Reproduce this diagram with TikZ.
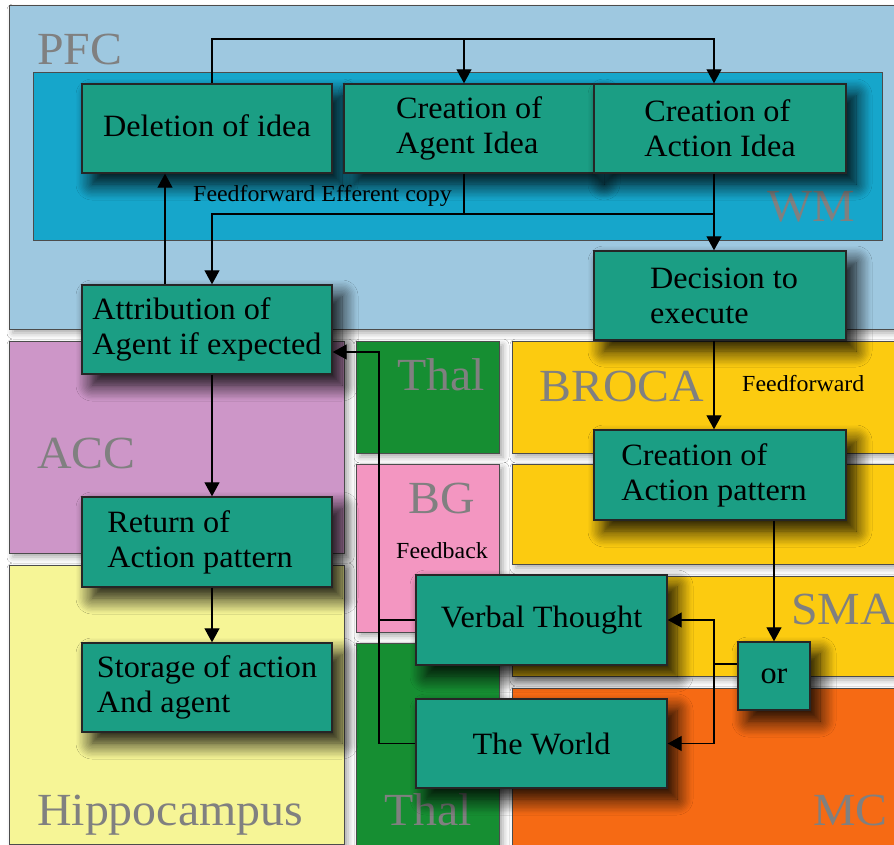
\documentclass[tikz,border=0pt]{standalone}
\usepackage{fontspec}
\setmainfont{Liberation Serif}[FakeStretch=1.04]
\usetikzlibrary{arrows.meta,shadows.blur,calc}

\definecolor{pfcblue}{RGB}{158,200,224}
\definecolor{wmblue}{RGB}{22,166,203}
\definecolor{boxteal}{RGB}{27,158,132}
\definecolor{accpink}{RGB}{205,150,200}
\definecolor{hippoyellow}{RGB}{246,245,150}
\definecolor{thalgreen}{RGB}{22,142,50}
\definecolor{bgpink}{RGB}{243,150,193}
\definecolor{motoryellow}{RGB}{252,203,16}
\definecolor{mcorange}{RGB}{246,106,20}
\definecolor{labelgray}{RGB}{128,128,128}

\begin{document}
\begin{tikzpicture}[x=1pt,y=-1pt,
  region/.style={draw=black!70, line width=1pt,
    blur shadow={shadow xshift=4pt, shadow yshift=-4pt, shadow blur radius=6pt, shadow opacity=35}},
  procbox/.style={draw=black!85, line width=1.4pt, fill=boxteal, align=left,
    minimum width=250pt, minimum height=89pt, inner sep=0pt,
    font=\fontsize{31}{35}\selectfont,
    blur shadow={shadow xshift=10pt, shadow yshift=-11pt, shadow blur radius=16pt,
      shadow blur steps=12, shadow opacity=95}},
  regionlabel/.style={text=labelgray, font=\fontsize{46}{50}\selectfont, anchor=base west, inner sep=0pt},
  smalllabel/.style={font=\fontsize{23}{26}\selectfont, anchor=base west, inner sep=0pt},
  wire/.style={draw=black, line width=1.2pt},
  arrow/.style={wire, -{Triangle[length=14pt,width=15pt]}}
]
\useasboundingbox (0,0) rectangle (894,845);
\fill[white] (0,0) rectangle (894,845);

% brain regions
\draw[region, fill=pfcblue] (9,6) rectangle (900,329);
\draw[draw=black!70, line width=1pt, fill=wmblue] (33,73) rectangle (882,240);
\draw[region, fill=accpink] (9,341) rectangle (344,553);
\draw[region, fill=hippoyellow] (9,565) rectangle (344,844);
\draw[region, fill=thalgreen] (356,341) rectangle (499,453);
\draw[region, fill=bgpink] (356,464) rectangle (499,632);
\draw[region, fill=thalgreen] (356,643) rectangle (499,850);
\draw[region, fill=motoryellow] (512,341) rectangle (900,453);
\draw[region, fill=motoryellow] (512,464) rectangle (900,564);
\draw[region, fill=motoryellow] (512,576) rectangle (900,676);
\draw[region, fill=mcorange] (512,688) rectangle (900,850);

% region names
\node[regionlabel] at (37,65) {PFC};
\node[regionlabel] at (767,222) {WM};
\node[regionlabel] at (37,468) {ACC};
\node[regionlabel] at (37,825) {Hippocampus};
\node[regionlabel] at (397,390) {Thal};
\node[regionlabel] at (408,513) {BG};
\node[regionlabel] at (384,825) {Thal};
\node[regionlabel] at (539,401) {BROCA};
\node[regionlabel] at (791,624) {SMA};
\node[regionlabel] at (813,825) {MC};

% processing stages
\node[procbox] (del) at (207,128.5) {\raisebox{5pt}{Deletion of idea}};
\node[procbox] (agent) at (469,128.5) {Creation of\\Agent Idea};
\node[procbox, minimum width=252pt] (action) at (720,128.5) {Creation of\\Action Idea};
\node[procbox, minimum width=252pt] (dec) at (720,295.5) {\hspace*{8pt}Decision to\\\hspace*{8pt}execute};
\node[procbox] (attr) at (207,329.5) {Attribution of\\Agent if expected};
\node[procbox, minimum height=90pt] (ret) at (207,542) {Return of\\Action pattern\hspace*{14pt}};
\node[procbox] (stor) at (207,687.5) {Storage of action\\And agent};
\node[procbox, minimum width=252pt, minimum height=90pt] (cap) at (720,475) {Creation of\\Action pattern\hspace*{12pt}};
\node[procbox, minimum width=251pt, minimum height=90pt] (verbal) at (541.5,620) {Verbal Thought};
\node[procbox, minimum width=251pt] (world) at (541.5,743.5) {The World};
\node[procbox, minimum width=72pt, minimum height=68pt] (orbox) at (774,676) {or};

% pathway labels
\node[smalllabel] at (193,202) {Feedforward Efferent copy};
\node[smalllabel] at (742,391) {Feedforward};
\node[smalllabel] at (396,558) {Feedback};

% junction points
\coordinate (busL) at (212,39);
\coordinate (busA) at (464,39);
\coordinate (busR) at (714,39);
\coordinate (effL) at (212,214);
\coordinate (effM) at (464,214);
\coordinate (effR) at (714,214);
\coordinate (upX) at (165,0);
\coordinate (fbTop) at (379,352);
\coordinate (orJ) at (714,664);

% top bus from deletion to both creation stages
\draw[arrow] (del.north -| busL) -- (busL) -- (busR) -- (action.north -| busR);
\draw[arrow] (busA) -- (agent.north -| busA);

% efferent copy and execution
\draw[wire] (agent.south -| effM) -- (effM);
\draw[arrow] (action.south -| effR) -- (dec.north -| effR);
\draw[arrow] (effR) -- (effL) -- (attr.north -| effL);
\draw[arrow] (attr.north -| upX) -- (del.south -| upX);

% left column
\draw[arrow] (attr.south -| effL) -- (ret.north -| effL);
\draw[arrow] (ret.south -| effL) -- (stor.north -| effL);

% motor chain
\draw[arrow] (dec.south -| effR) -- (cap.north -| effR);
\draw[arrow] (cap.south -| orbox.north) -- (orbox.north);
\draw[wire] (orbox.west |- orJ) -- (orJ);
\draw[arrow] (orJ) |- (verbal.east);
\draw[arrow] (orJ) |- (world.east);

% feedback to attribution
\draw[arrow] (world.west) -| (fbTop) -- (attr.east |- fbTop);
\draw[wire] (verbal.west) -- (verbal.west -| fbTop);
\end{tikzpicture}
\end{document}
